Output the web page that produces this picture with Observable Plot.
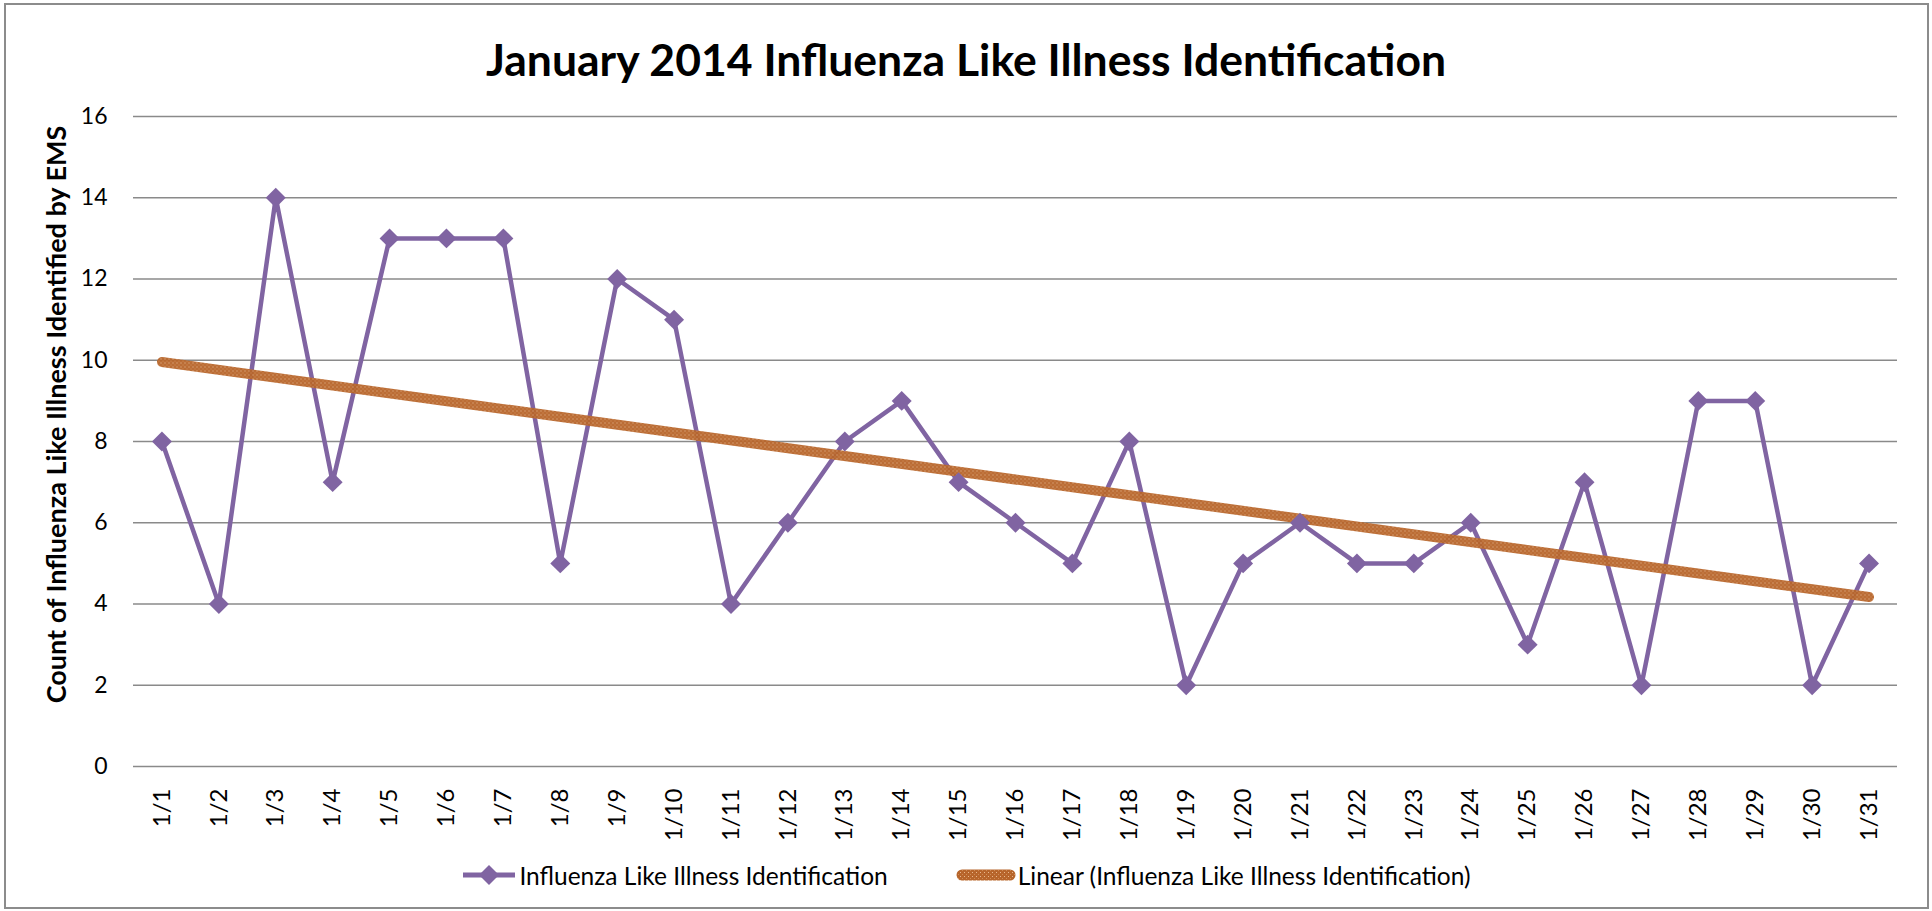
<!DOCTYPE html>
<html><head><meta charset="utf-8">
<script src="https://cdn.jsdelivr.net/npm/d3@7"></script>
<script src="https://cdn.jsdelivr.net/npm/@observablehq/plot@0.6"></script>
<style>
body{margin:0;background:#fff;font-family:Lato,"Open Sans",sans-serif;}
#wrap{position:relative;width:1932px;height:911px;overflow:hidden;}
#frame{position:absolute;left:4px;top:3px;width:1921px;height:902px;border:2px solid #8c8c8c;pointer-events:none;}
#title{position:absolute;left:0;top:0;width:1932px;height:90px;display:flex;align-items:center;justify-content:center;padding-top:26px;box-sizing:border-box;font-weight:bold;font-size:44.5px;color:#000;}
#chart{position:absolute;left:0;top:90px;}
#legend{position:absolute;left:0;top:860px;width:1932px;display:flex;justify-content:center;align-items:center;font-size:24.5px;color:#000;}
.item{display:flex;align-items:center;margin:0 34px;}
.item svg{display:block;margin-right:2px;}
</style>
</head><body>
<div id="wrap">
<div id="title">January 2014 Influenza Like Illness Identification</div>
<div id="chart"></div>
<div id="legend">
  <div class="item"><svg width="56" height="30"><line x1="2" y1="15" x2="54" y2="15" stroke="#8064A2" stroke-width="5"/><path d="M28,5 L38,15 L28,25 L18,15 Z" fill="#8064A2"/></svg><span>Influenza Like Illness Identification</span></div>
  <div class="item"><svg width="60" height="30"><defs><pattern id="hatchL" width="4" height="4" patternUnits="userSpaceOnUse"><rect width="4" height="4" fill="#B7652B"/><rect x="0" y="0" width="1" height="1" fill="#E8B98F"/><rect x="2" y="2" width="1" height="1" fill="#D08A52"/></pattern></defs><line x1="6" y1="15" x2="54" y2="15" stroke="url(#hatchL)" stroke-width="11" stroke-linecap="round"/></svg><span>Linear (Influenza Like Illness Identification)</span></div>
</div>
<div id="frame"></div>
</div>
<script>
const dates = ["1/1","1/2","1/3","1/4","1/5","1/6","1/7","1/8","1/9","1/10","1/11","1/12","1/13","1/14","1/15","1/16","1/17","1/18","1/19","1/20","1/21","1/22","1/23","1/24","1/25","1/26","1/27","1/28","1/29","1/30","1/31"];
const counts = [8,4,14,7,13,13,13,5,12,11,4,6,8,9,7,6,5,8,2,5,6,5,5,6,3,7,2,9,9,2,5];
const yTicks = [0,2,4,6,8,10,12,14,16];
const seriesName = "Influenza Like Illness Identification";
const yLabel = "Count of Influenza Like Illness Identified by EMS";

const data = dates.map((d, i) => ({day: i + 1, label: d, count: counts[i]}));
const labelOf = new Map(data.map(d => [d.day, d.label]));

const purple = "#8064A2";

const chart = Plot.plot({
  width: 1932,
  height: 750,
  marginTop: 26,
  marginBottom: 74,
  marginLeft: 133,
  marginRight: 35,
  style: {fontFamily: "Lato, 'Open Sans', sans-serif", fontSize: "23px", color: "#000", background: "transparent"},
  x: {type: "linear", domain: [0.5, dates.length + 0.5]},
  y: {domain: [0, 16]},
  marks: [
    Plot.gridY(yTicks, {stroke: "#8a8a8a", strokeOpacity: 1, strokeWidth: 1.6}),
    Plot.axisY(yTicks, {tickSize: 0, tickPadding: 26, fontSize: 23, label: null}),
    Plot.axisX(data.map(d => d.day), {tickSize: 0, tickPadding: 22, tickRotate: -90, fontSize: 24, tickFormat: d => labelOf.get(d), label: null}),
    Plot.line(data, {x: "day", y: "count", stroke: purple, strokeWidth: 4.5, strokeLinejoin: "miter"}),
    Plot.linearRegressionY(data, {x: "day", y: "count", ci: 0, stroke: "url(#hatch)", strokeWidth: 10, strokeLinecap: "round", strokeOpacity: 0.95}),
    Plot.dot(data, {x: "day", y: "count", symbol: "diamond2", r: 9, fill: purple, stroke: "none"}),
    Plot.text([yLabel], {frameAnchor: "left", dx: -76, dy: -27, rotate: -90, fontWeight: "bold", fontSize: 27, text: d => d, textAnchor: "middle"})
  ]
});

// pattern for the trend line texture
const ns = "http://www.w3.org/2000/svg";
const defs = document.createElementNS(ns, "defs");
defs.innerHTML = '<pattern id="hatch" width="4" height="4" patternUnits="userSpaceOnUse"><rect width="4" height="4" fill="#B7652B"/><rect x="0" y="0" width="1" height="1" fill="#E8B98F"/><rect x="2" y="2" width="1" height="1" fill="#D08A52"/></pattern>';
chart.insertBefore(defs, chart.firstChild);
document.getElementById("chart").appendChild(chart);
</script>
</body></html>
